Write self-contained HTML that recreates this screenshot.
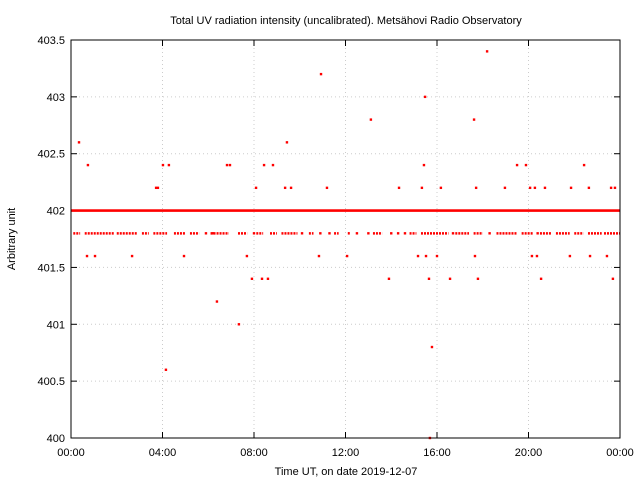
<!DOCTYPE html>
<html><head><meta charset="utf-8"><style>
body{margin:0;background:#fff}
svg{font-family:"Liberation Sans",sans-serif;font-size:11px}
</style></head><body>
<svg width="640" height="480" xmlns="http://www.w3.org/2000/svg">
<rect width="640" height="480" fill="#fff"/>
<text x="346" y="24" text-anchor="middle" font-size="11">Total UV radiation intensity (uncalibrated). Metsähovi Radio Observatory</text>
<text x="346" y="475" text-anchor="middle">Time UT, on date 2019-12-07</text>
<text x="15" y="239" text-anchor="middle" transform="rotate(-90 15 239)">Arbitrary unit</text>
<g id="grid"></g><g id="ticks"></g><g id="marks"></g>
<rect x="71" y="40" width="549" height="398" fill="none" stroke="#000"/>
</svg>
<script>
const xTicks=["00:00","04:00","08:00","12:00","16:00","20:00","00:00"];
const yTicks=[400,400.5,401,401.5,402,402.5,403,403.5];
const baseRow=[[0,24]];
const baseValue=402;
const lowSegs=[[0.1,0.4],[0.6,1.9],[2.0,2.9],[3.1,3.4],[3.6,4.2],[4.5,5.0],[5.2,5.6],[6.1,6.9],[7.3,7.7],[8.1,8.4],[8.7,9.0],[9.2,9.9],[10.4,10.6],[11.5,11.7],[12.1,12.2],[13.2,13.6],[14.8,15.1],[15.3,16.5],[16.8,17.4],[17.6,18.0],[18.6,19.5],[19.7,20.2],[20.5,21.0],[21.2,21.8],[22.0,22.4],[22.6,23.2],[23.3,24.0]];
const lowValue=401.8;
const lowPts=[5.9,6.2,8.0,10.1,10.9,11.3,12.5,13.0,14.0,14.3,14.6,16.7,18.3,20.4];
const outT=[0.35,0.74,0.70,1.05,2.67,3.72,3.80,4.02,4.15,4.28,4.94,6.38,6.82,6.95,7.34,7.69,7.91,8.09,8.35,8.44,8.61,8.83,9.36,9.44,9.62,10.84,10.93,11.19,12.07,13.11,13.90,14.34,15.17,15.34,15.43,15.48,15.52,15.65,15.78,15.69,16.0,16.17,16.57,17.62,17.66,17.71,17.79,18.19,18.97,19.50,19.89,20.07,20.15,20.28,20.37,20.55,20.72,21.81,21.86,22.43,22.64,22.69,23.43,23.61,23.69,23.78];
const outV=[402.6,402.4,401.6,401.6,401.6,402.2,402.2,402.4,400.6,402.4,401.6,401.2,402.4,402.4,401.0,401.6,401.4,402.2,401.4,402.4,401.4,402.4,402.2,402.6,402.2,401.6,403.2,402.2,401.6,402.8,401.4,402.2,401.6,402.2,402.4,403.0,401.6,401.4,400.8,400.0,401.6,402.2,401.4,402.8,401.6,402.2,401.4,403.4,402.2,402.4,402.4,402.2,401.6,402.2,401.6,401.4,402.2,401.6,402.2,402.4,402.2,401.6,401.6,402.2,401.4,402.2];
const X=h=>71+h/24*549, Y=v=>438-(v-400)/3.5*398;
const NS="http://www.w3.org/2000/svg";
function mk(t,a,p){const e=document.createElementNS(NS,t);for(const k in a)e.setAttribute(k,a[k]);document.getElementById(p).appendChild(e);return e;}
xTicks.forEach((l,i)=>{const x=71+i*549/6;
 const g=mk('line',{x1:x,x2:x,y1:40,y2:438,stroke:'#ccc','stroke-dasharray':'1,3'},'grid');
 
 
 mk('line',{x1:x,x2:x,y1:438,y2:432,stroke:'#000'},'ticks');
 mk('line',{x1:x,x2:x,y1:40,y2:46,stroke:'#000'},'ticks');
 const t=mk('text',{x:x,y:456,'text-anchor':'middle'},'ticks');t.textContent=l;
 
 });
yTicks.forEach(v=>{const y=Y(v);
 const g=mk('line',{x1:71,x2:620,y1:y,y2:y,stroke:'#ccc','stroke-dasharray':'1,3'},'grid');
 
 
 mk('line',{x1:71,x2:77,y1:y,y2:y,stroke:'#000'},'ticks');
 mk('line',{x1:620,x2:614,y1:y,y2:y,stroke:'#000'},'ticks');
 const t=mk('text',{x:65,y:y+4,'text-anchor':'end'},'ticks');t.textContent=String(v);
 
 });
baseRow.forEach(s=>{const r=mk('rect',{x:X(s[0]),y:Y(baseValue)-1.3,width:X(s[1])-X(s[0]),height:2.6,fill:'#f00'},'marks');
 
 });
lowSegs.forEach(s=>{const r=mk('line',{x1:X(s[0]),x2:X(s[1]),y1:Y(lowValue),y2:Y(lowValue),stroke:'#f00','stroke-width':2.5,'stroke-dasharray':'2,1'},'marks');
 
 });
lowPts.forEach(h=>{const r=mk('rect',{x:X(h)-1.2,y:Y(lowValue)-1.2,width:2.4,height:2.4,fill:'#f00'},'marks');
 
 });
outT.forEach((h,i)=>{const r=mk('rect',{x:X(h)-1.2,y:Y(outV[i])-1.2,width:2.4,height:2.4,fill:'#f00'},'marks');
 
 });
</script>
</body></html>
